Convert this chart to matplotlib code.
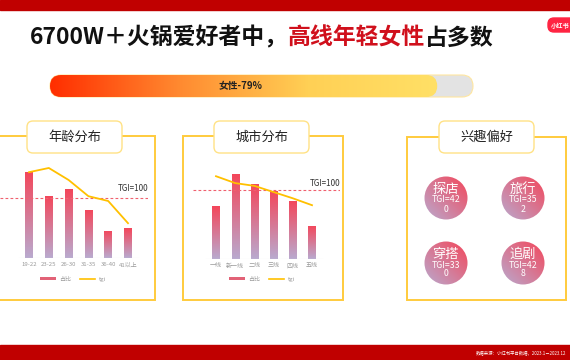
import numpy as np
import matplotlib
matplotlib.use("Agg")
import matplotlib.pyplot as plt
from matplotlib.patches import Rectangle, FancyBboxPatch, Circle, Patch
from matplotlib.lines import Line2D
from matplotlib.colors import LinearSegmentedColormap

plt.rcParams['font.family'] = ['Noto Sans CJK SC', 'DejaVu Sans']

# data
female_share = 79
age_groups = ['19-22', '23-25', '26-30', '31-35', '36-40', '41以上']
age_share = [26.7, 19.3, 21.4, 14.9, 8.4, 9.3]
age_tgi = [143, 150, 130, 103, 95, 58]
city_levels = ['一线', '新一线', '二线', '三线', '四线', '五线']
city_share = [14.2, 22.8, 20.2, 18.3, 15.6, 8.9]
city_tgi = [120, 110, 106, 97, 88, 78]
interests = ['探店', '旅行', '穿搭', '追剧']
interest_tgi = [420, 352, 330, 428]

W, H = 570, 360
RED = '#C00000'
YEL = '#FFCB3D'
bar_cmap = LinearSegmentedColormap.from_list('bar', ['#B9AACF', '#F4465A'])
prog_cmap = LinearSegmentedColormap.from_list('prog', ['#FF2E00', '#FF8A30', '#FFD055', '#FFE066'])

fig = plt.figure(figsize=(W / 100, H / 100), dpi=100)
bg = fig.add_axes([0, 0, 1, 1])
bg.set_xlim(0, W)
bg.set_ylim(H, 0)
bg.axis('off')


def px_axes(x0, y0, x1, y1):
    return fig.add_axes([x0 / W, 1 - y1 / H, (x1 - x0) / W, (y1 - y0) / H])


# header / footer bars
bg.add_patch(Rectangle((0, 0), W, 10, color=RED))
bg.add_patch(Rectangle((0, 345), W, 15, color=RED))
bg.text(476, 353, '数据来源：小红书平台数据，2023.1－2023.12', color='white', fontsize=3.2, va='center')

# logo
bg.add_patch(FancyBboxPatch((548, 18), 30, 14, boxstyle='round,pad=0,rounding_size=6', color='#FF2442'))
bg.text(551, 25.5, '小红书', color='white', fontsize=4.5, va='center', weight='bold')

# title in three colours
fig.canvas.draw()
r = fig.canvas.get_renderer()
parts = [('6700W＋火锅爱好者中，', '#111111'), ('高线年轻女性', '#D0101C'), ('占多数', '#111111')]
x = 30
for txt, col in parts:
    t = bg.text(x, 38, txt, color=col, fontsize=16.5, weight='bold', va='center', ha='left')
    bb = t.get_window_extent(renderer=r)
    x += bb.width

# progress bar: full track is 50..473 px, scale so that the track ends at 86.3
bx0, bx1, by0, by1 = 50, 473, 75, 97
scale_max = 86.3
fill_end = bx0 + (bx1 - bx0) * female_share / scale_max
bg.add_patch(FancyBboxPatch((bx0, by0), bx1 - bx0, by1 - by0, boxstyle='round,pad=0,rounding_size=11',
                            facecolor='#E3E3E3', edgecolor='#FFE6A0', lw=0.8, zorder=1))
inner = FancyBboxPatch((bx0, by0), fill_end - bx0, by1 - by0, boxstyle='round,pad=0,rounding_size=11',
                       facecolor='none', edgecolor='none', zorder=2)
bg.add_patch(inner)
grad = np.linspace(0, 1, 256).reshape(1, -1)
im = bg.imshow(grad, cmap=prog_cmap, extent=(bx0, fill_end, by1, by0), aspect='auto', zorder=3)
im.set_clip_path(inner)
bg.text((bx0 + fill_end) / 2 - 3, 86.5, f'女性-{female_share}%', ha='center', va='center',
        fontsize=7, weight='bold', color='#222222', zorder=4)
bg.set_xlim(0, W)
bg.set_ylim(H, 0)


# panel frames
def frame(x0, y0, x1, y1, tx0, tx1, title):
    bg.add_patch(Rectangle((x0, y0), x1 - x0, y1 - y0, fill=False, edgecolor=YEL, lw=1.4))
    bg.add_patch(FancyBboxPatch((tx0, 121), tx1 - tx0, 32, boxstyle='round,pad=0,rounding_size=6',
                                facecolor='white', edgecolor='#FFE285', lw=1.0))
    bg.text((tx0 + tx1) / 2, 137.5, title, ha='center', va='center', fontsize=9.5, color='#222222')


frame(-5, 136, 155, 300, 27, 122, '年龄分布')
frame(183, 136, 343, 300, 214, 309, '城市分布')
frame(407, 137, 566, 300, 439, 534, '兴趣偏好')


def chart(x0, x1, ybase, c0, step, top_share, top_tgi, cats, share, tgi, leg_x, lab_off):
    ax = px_axes(x0, 160, x1, ybase)
    ax.set_xlim((x0 - c0) / step, (x1 - c0) / step)
    ax.set_ylim(0, top_share)
    ax.patch.set_alpha(0)
    for s in ax.spines.values():
        s.set_visible(False)
    ax.set_yticks([])
    ax.set_xticks(range(len(cats)))
    ax.set_xticklabels(cats, fontsize=4.3, color='#9A9A9A')
    ax.tick_params(axis='x', length=0, pad=3)
    bars = ax.bar(range(len(cats)), share, width=0.38, facecolor='none', edgecolor='none')
    vgrad = np.linspace(0, 1, 256).reshape(-1, 1)
    for b in bars:
        im = ax.imshow(vgrad, cmap=bar_cmap, origin='lower', aspect='auto',
                       extent=(b.get_x(), b.get_x() + b.get_width(), 0, b.get_height()))
        im.set_clip_path(b)
    ax.plot([-0.5, len(cats) - 0.5], [0, 0], color='#E2E2E2', lw=0.8)
    ax.set_xlim((x0 - c0) / step, (x1 - c0) / step)
    ax.set_ylim(0, top_share)

    ax2 = ax.twinx()
    ax2.set_ylim(0, top_tgi)
    ax2.axis('off')
    ax2.axhline(100, color='#F0606E', lw=0.8, ls=(0, (2.5, 2)))
    ax2.plot(range(len(cats)), tgi, color='#FFC000', lw=1.3)
    ax2.text(1.0, 100 + lab_off, 'TGI=100', transform=ax2.get_yaxis_transform(),
             ha='right', va='center', fontsize=5.8, color='#333333')

    fig.legend(handles=[Patch(facecolor='#E26277', edgecolor='none'),
                        Line2D([], [], color='#FFC000', lw=1.2)],
               labels=['占比', 'tgi'], loc='center', bbox_to_anchor=(leg_x / W, 1 - 279 / H),
               ncol=2, frameon=False, fontsize=4.3, handlelength=2.6, handleheight=0.6,
               columnspacing=1.5, handletextpad=0.5, labelcolor='#9A9A9A')


chart(0, 148, 258, 29, 19.8, 30.4, 163.3, age_groups, age_share, age_tgi, 73, 16)
chart(193, 340, 259, 216, 19.2, 26.6, 143.5, city_levels, city_share, city_tgi, 262, 10)

# interest circles
ca = px_axes(407, 137, 566, 300)
ca.set_xlim(407, 566)
ca.set_ylim(300, 137)
ca.axis('off')
dgrad = np.add.outer(np.linspace(1, 0, 128), np.linspace(0, 1, 128)) / 2
centers = [(446, 198), (523, 198), (446, 263), (523, 263)]
for (cx, cy), name, val in zip(centers, interests, interest_tgi):
    c = Circle((cx, cy), 21.5, facecolor='none', edgecolor='none')
    ca.add_patch(c)
    im = ca.imshow(dgrad, cmap=bar_cmap, extent=(cx - 22, cx + 22, cy + 22, cy - 22), aspect='auto')
    im.set_clip_path(c)
    s = f'TGI={val}'
    ca.text(cx, cy - 9, name, ha='center', va='center', fontsize=9.5, color='white')
    ca.text(cx, cy + 2, s[:6], ha='center', va='center', fontsize=6.3, color='white')
    ca.text(cx, cy + 11, s[6:], ha='center', va='center', fontsize=6.3, color='white')
ca.set_xlim(407, 566)
ca.set_ylim(300, 137)

fig.savefig('out.png', dpi=100)
